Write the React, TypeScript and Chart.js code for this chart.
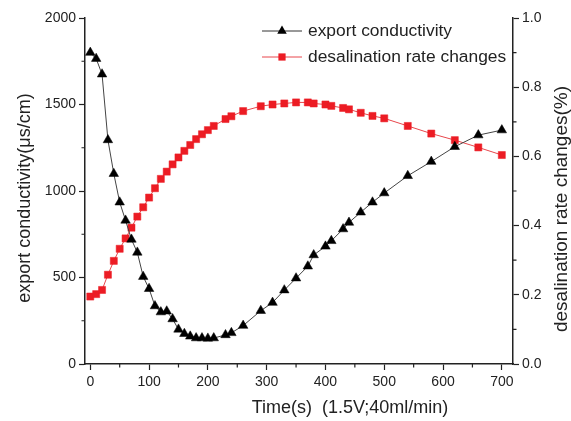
import React, { useEffect, useRef } from "react";
import { Chart, registerables } from "chart.js";

Chart.register(...registerables);

// ---- data ----
const timeS = [0, 10, 20, 30, 40, 50, 60, 70, 80, 90, 100, 110, 120, 130, 140, 150, 160, 170, 180, 190, 200, 210, 230, 240, 260, 290, 310, 330, 350, 370, 380, 400, 410, 430, 440, 460, 480, 500, 540, 580, 620, 660, 700];
const conductivity = [1800, 1765, 1675, 1295, 1100, 935, 830, 720, 645, 505, 435, 335, 300, 305, 260, 200, 175, 160, 150, 150, 148, 150, 168, 180, 222, 308, 355, 427, 496, 565, 630, 680, 712, 780, 818, 877, 935, 988, 1088, 1170, 1256, 1323, 1352];
const desalRate = [0.195, 0.202, 0.214, 0.258, 0.298, 0.333, 0.363, 0.394, 0.426, 0.453, 0.481, 0.508, 0.535, 0.556, 0.577, 0.597, 0.616, 0.633, 0.65, 0.664, 0.676, 0.688, 0.708, 0.716, 0.731, 0.745, 0.75, 0.753, 0.756, 0.756, 0.753, 0.75, 0.746, 0.74, 0.736, 0.726, 0.717, 0.71, 0.688, 0.666, 0.647, 0.626, 0.604];

const xTicks = [0, 100, 200, 300, 400, 500, 600, 700];
const xMinorTicks = [50, 150, 250, 350, 450, 550, 650];
const leftTicks = [0, 500, 1000, 1500, 2000];
const leftMinorTicks = [250, 750, 1250, 1750];
const rightTicks = [0, 0.2, 0.4, 0.6, 0.8, 1.0];
const rightMinorTicks = [0.1, 0.3, 0.5, 0.7, 0.9];

const seriesNames = ["export conductivity", "desalination rate changes"];
const xTitle = "Time(s)  (1.5V;40ml/min)";
const leftTitle = "export conductivity(\u03bcs/cm)";
const rightTitle = "desalination rate changes(%)";

const FONT = "'Liberation Sans', Arial, sans-serif";
const TEXT = "#222";
const BLACK = "#000";
const RED = "#ec1c24";

function drawTriangle(ctx: CanvasRenderingContext2D, x: number, y: number, r: number) {
  const h = r * 1.5;
  const w = r * Math.sqrt(3);
  ctx.beginPath();
  ctx.moveTo(x, y - h * 2 / 3);
  ctx.lineTo(x + w / 2, y + h / 3);
  ctx.lineTo(x - w / 2, y + h / 3);
  ctx.closePath();
  ctx.fill();
}

const extrasPlugin = {
  id: "extras",
  afterDraw(chart: any) {
    const ctx: CanvasRenderingContext2D = chart.ctx;
    const a = chart.chartArea;
    const sx = chart.scales.x;
    const sy = chart.scales.y;
    const sy1 = chart.scales.y1;
    ctx.save();
    // minor ticks
    ctx.strokeStyle = TEXT;
    ctx.lineWidth = 1.2;
    ctx.beginPath();
    xMinorTicks.forEach((v) => {
      const p = sx.getPixelForValue(v);
      ctx.moveTo(p, a.bottom);
      ctx.lineTo(p, a.bottom + 3.5);
    });
    leftMinorTicks.forEach((v) => {
      const p = sy.getPixelForValue(v);
      ctx.moveTo(a.left, p);
      ctx.lineTo(a.left - 3.5, p);
    });
    rightMinorTicks.forEach((v) => {
      const p = sy1.getPixelForValue(v);
      ctx.moveTo(a.right, p);
      ctx.lineTo(a.right + 3.5, p);
    });
    ctx.stroke();

    // axis titles
    ctx.fillStyle = TEXT;
    ctx.font = `18px ${FONT}`;
    ctx.textAlign = "center";
    ctx.textBaseline = "middle";
    ctx.fillText(xTitle, (a.left + a.right) / 2 + 51, a.bottom + 44);

    ctx.save();
    ctx.translate(25, (a.top + a.bottom) / 2 + 7);
    ctx.rotate(-Math.PI / 2);
    ctx.fillText(leftTitle, 0, 0);
    ctx.restore();

    ctx.save();
    ctx.font = `19px ${FONT}`;
    ctx.translate(a.right + 49, (a.top + a.bottom) / 2 + 18);
    ctx.rotate(-Math.PI / 2);
    ctx.fillText(rightTitle, 0, 0);
    ctx.restore();

    // legend
    const lx0 = a.left + 177;
    const lx1 = lx0 + 40;
    const rows = [a.top + 13, a.top + 39];
    ctx.font = `17.4px ${FONT}`;
    ctx.textAlign = "left";
    // row 1
    ctx.strokeStyle = "#333";
    ctx.lineWidth = 1;
    ctx.beginPath();
    ctx.moveTo(lx0, rows[0]);
    ctx.lineTo(lx1, rows[0]);
    ctx.stroke();
    ctx.fillStyle = BLACK;
    drawTriangle(ctx, (lx0 + lx1) / 2, rows[0], 5.5);
    ctx.fillStyle = TEXT;
    ctx.fillText(seriesNames[0], lx1 + 6, rows[0]);
    // row 2
    ctx.strokeStyle = "#e8474c";
    ctx.beginPath();
    ctx.moveTo(lx0, rows[1]);
    ctx.lineTo(lx1, rows[1]);
    ctx.stroke();
    ctx.fillStyle = RED;
    ctx.fillRect((lx0 + lx1) / 2 - 3.6, rows[1] - 3.6, 7.2, 7.2);
    ctx.fillStyle = TEXT;
    ctx.fillText(seriesNames[1], lx1 + 6, rows[1]);

    ctx.restore();
  },
};

export default function App() {
  const ref = useRef<HTMLCanvasElement>(null);

  useEffect(() => {
    document.body.style.margin = "0";
    const canvas = ref.current;
    if (!canvas) return;
    const tickFont = { family: FONT, size: 14 };
    const chart = new Chart(canvas, {
      type: "line",
      data: {
        datasets: [
          {
            label: seriesNames[0],
            data: timeS.map((t, i) => ({ x: t, y: conductivity[i] })),
            yAxisID: "y",
            borderColor: "#444",
            borderWidth: 1,
            pointStyle: "triangle",
            pointRadius: 5.5,
            pointBackgroundColor: BLACK,
            pointBorderColor: BLACK,
            pointBorderWidth: 0.5,
            tension: 0,
          },
          {
            label: seriesNames[1],
            data: timeS.map((t, i) => ({ x: t, y: desalRate[i] })),
            yAxisID: "y1",
            borderColor: "#e8474c",
            borderWidth: 1,
            pointStyle: "rect",
            pointRadius: 5,
            pointBackgroundColor: RED,
            pointBorderColor: RED,
            pointBorderWidth: 0.5,
            tension: 0,
          },
        ],
      },
      options: {
        animation: false,
        responsive: false,
        maintainAspectRatio: false,
        layout: { padding: { top: 18, left: 0, right: 0, bottom: 0 } },
        plugins: { legend: { display: false }, tooltip: { enabled: false } },
        scales: {
          x: {
            type: "linear",
            min: -9,
            max: 719,
            afterBuildTicks: (s: any) => {
              s.ticks = xTicks.map((v) => ({ value: v }));
            },
            afterFit: (s: any) => {
              s.height = 57;
            },
            ticks: { font: tickFont, color: TEXT, padding: 4, maxRotation: 0, autoSkip: false, callback: (v: any) => String(v) },
            grid: { display: true, drawOnChartArea: false, drawTicks: true, tickLength: 6, tickColor: TEXT, tickWidth: 1.2 },
            border: { display: true, color: TEXT, width: 1.5 },
          },
          y: {
            type: "linear",
            position: "left",
            min: 0,
            max: 2000,
            afterBuildTicks: (s: any) => {
              s.ticks = leftTicks.map((v) => ({ value: v }));
            },
            afterFit: (s: any) => {
              s.width = 85;
            },
            ticks: { font: tickFont, color: TEXT, padding: 3, autoSkip: false, callback: (v: any) => String(v) },
            grid: { display: true, drawOnChartArea: false, drawTicks: true, tickLength: 6, tickColor: TEXT, tickWidth: 1.2 },
            border: { display: true, color: TEXT, width: 1.5 },
          },
          y1: {
            type: "linear",
            position: "right",
            min: 0,
            max: 1,
            afterBuildTicks: (s: any) => {
              s.ticks = rightTicks.map((v) => ({ value: v }));
            },
            afterFit: (s: any) => {
              s.width = 58;
            },
            ticks: {
              font: tickFont,
              color: TEXT,
              padding: 3,
              autoSkip: false,
              callback: (v: any) => Number(v).toFixed(1),
            },
            grid: { display: true, drawOnChartArea: false, drawTicks: true, tickLength: 6, tickColor: TEXT, tickWidth: 1.2 },
            border: { display: true, color: TEXT, width: 1.5 },
          },
        },
      },
      plugins: [extrasPlugin],
    });
    return () => chart.destroy();
  }, []);

  return (
    <div style={{ width: 571, height: 421, background: "#fff" }}>
      <canvas ref={ref} width={571} height={421} style={{ display: "block" }} />
    </div>
  );
}
